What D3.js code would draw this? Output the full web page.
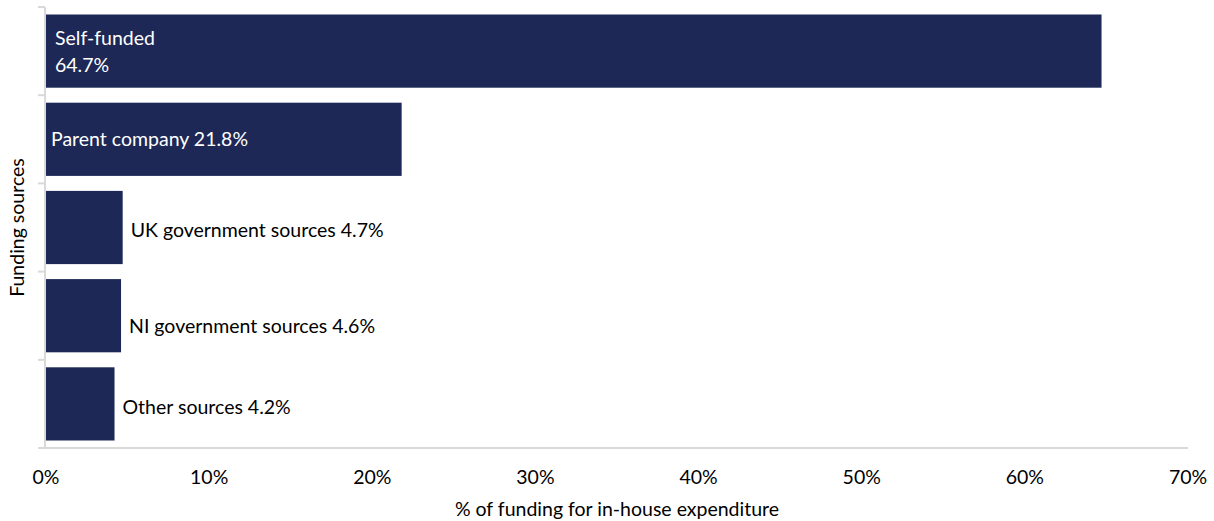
<!DOCTYPE html>
<head>
<meta charset="utf-8">
<style>
body { margin: 0; background: white; }
text { font-family: Lato, "Open Sans", sans-serif; fill: #000; font-size: 19.5px; }
</style>
</head>
<body>
<svg width="1214" height="521"></svg>
<script src="https://d3js.org/d3.v7.min.js"></script>
<script>
// funding sources, top to bottom
var categories = ["Self-funded", "Parent company", "UK government sources", "NI government sources", "Other sources"];
var values = [64.7, 21.8, 4.7, 4.6, 4.2];
var ticks = [0, 10, 20, 30, 40, 50, 60, 70];

var svg = d3.select("svg");
var m = {left: 46, right: 1188, top: 7, bottom: 448};

var x = d3.scaleLinear().domain([0, 70]).range([m.left, m.right]);
var y = d3.scaleBand().domain(categories).range([m.top, m.bottom]).paddingInner(0.17).paddingOuter(0.085);

// axes
svg.append("line")
  .attr("x1", m.left - 1).attr("x2", m.left - 1)
  .attr("y1", m.top).attr("y2", m.bottom)
  .attr("stroke", "#d9d9d9").attr("stroke-width", 2);
var step = (m.bottom - m.top) / categories.length;
d3.range(categories.length + 1).forEach(function(i) {
  svg.append("line")
    .attr("x1", m.left - 8).attr("x2", m.left - 1)
    .attr("y1", m.top + i * step).attr("y2", m.top + i * step)
    .attr("stroke", "#d9d9d9").attr("stroke-width", 2);
});
svg.append("line")
  .attr("x1", m.left - 8).attr("x2", m.right)
  .attr("y1", m.bottom).attr("y2", m.bottom)
  .attr("stroke", "#d9d9d9").attr("stroke-width", 2);

svg.selectAll(".tick")
  .data(ticks)
  .enter().append("text")
  .attr("class", "tick")
  .attr("x", d => x(d))
  .attr("y", 484)
  .attr("text-anchor", "middle")
  .text(d => d + "%");

svg.append("text")
  .attr("x", (m.left + m.right) / 2)
  .attr("y", 516)
  .attr("text-anchor", "middle")
  .text("% of funding for in-house expenditure");

svg.append("text")
  .attr("transform", "translate(24," + ((m.top + m.bottom) / 2) + ") rotate(-90)")
  .attr("text-anchor", "middle")
  .text("Funding sources");

// bars
svg.selectAll(".bar")
  .data(values)
  .enter().append("rect")
  .attr("class", "bar")
  .attr("x", x(0))
  .attr("y", (d, i) => y(categories[i]))
  .attr("width", d => x(d) - x(0))
  .attr("height", y.bandwidth())
  .attr("fill", "#1d2856");

// labels: first two inside the bar, others outside
var labelDy = [0, 0, 2, 10, 3];
values.forEach(function(v, i) {
  var cy = y(categories[i]) + y.bandwidth() / 2 + labelDy[i];
  if (i === 0) {
    var t = svg.append("text")
      .attr("x", x(0) + 9)
      .attr("y", cy - 6)
      .style("fill", "white");
    t.append("tspan").attr("x", x(0) + 9).text(categories[i]);
    t.append("tspan").attr("x", x(0) + 9).attr("dy", 27).text(v + "%");
  } else if (i === 1) {
    svg.append("text")
      .attr("x", x(0) + 5)
      .attr("y", cy + 7)
      .style("fill", "white")
      .text(categories[i] + " " + v + "%");
  } else {
    svg.append("text")
      .attr("x", x(v) + 8)
      .attr("y", cy + 7)
      .text(categories[i] + " " + v + "%");
  }
});
</script>
</body>
